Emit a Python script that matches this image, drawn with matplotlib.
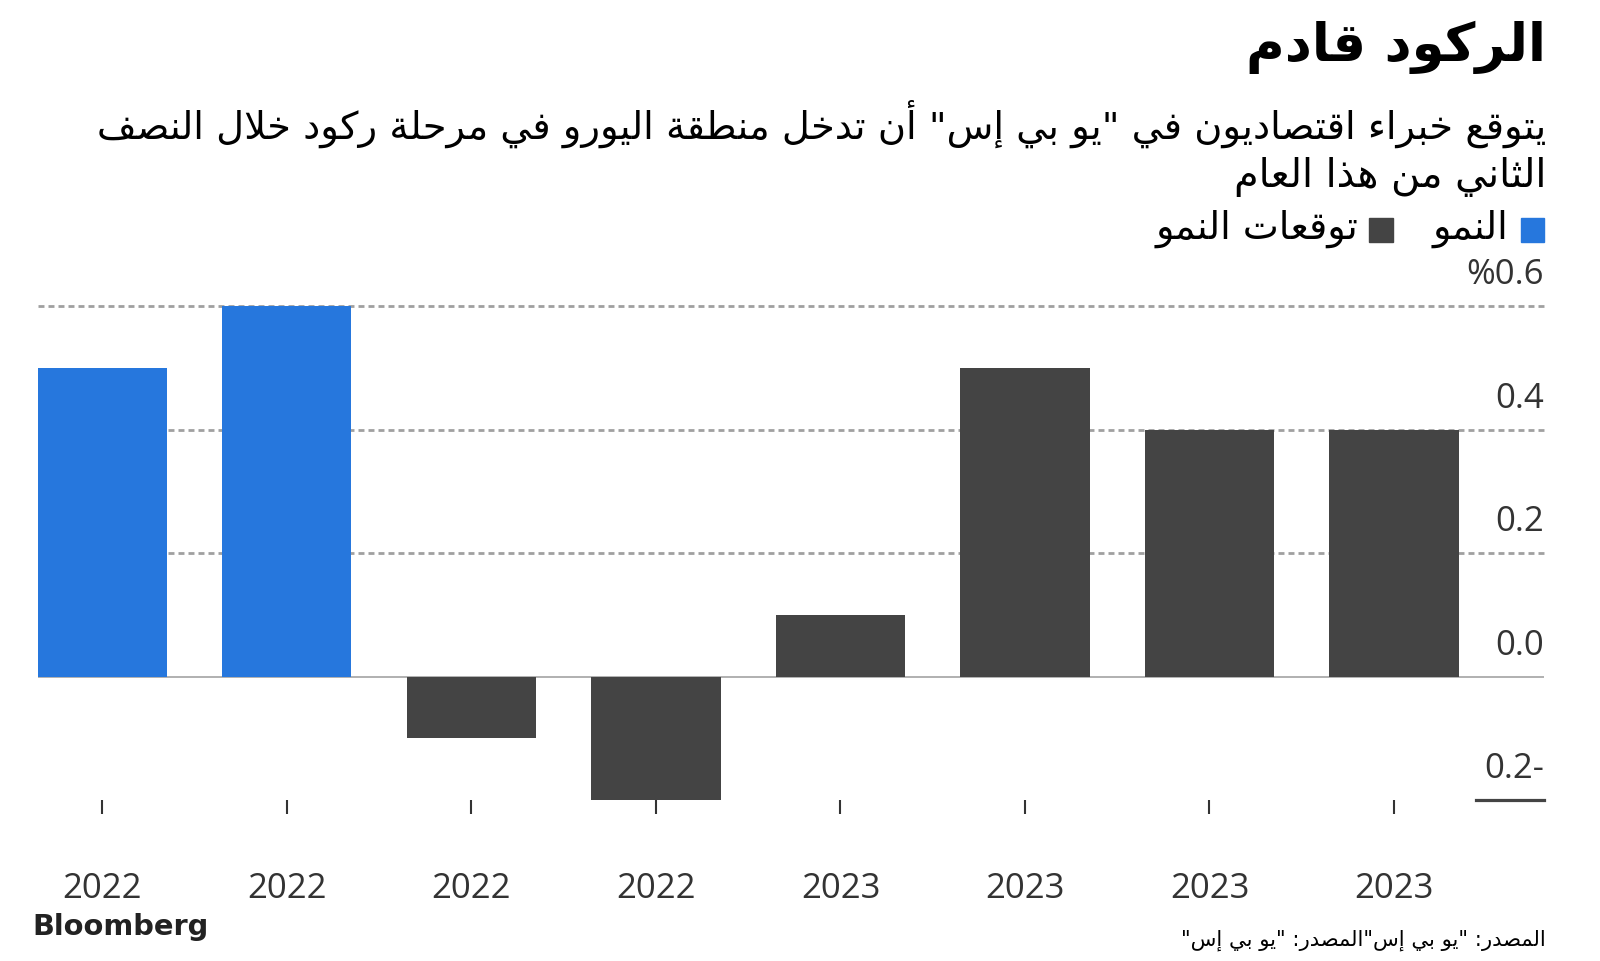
import matplotlib
matplotlib.use('Agg')
import matplotlib.pyplot as plt
import matplotlib.transforms as mtransforms

# ---- data ----
years = ['2022', '2022', '2022', '2022', '2023', '2023', '2023', '2023']
growth = [0.5, 0.6, -0.1, -0.2, 0.1, 0.5, 0.4, 0.4]
is_forecast = [False, False, True, True, True, True, True, True]
ytick_vals = [0.6, 0.4, 0.2, 0.0, -0.2]
ytick_text = ['%0.6', '0.4', '0.2', '0.0', '0.2-']

title = 'الركود قادم'
subtitle1 = 'يتوقع خبراء اقتصاديون في "يو بي إس" أن تدخل منطقة اليورو في مرحلة ركود خلال النصف'
subtitle2 = 'الثاني من هذا العام'
legend_actual = 'النمو'
legend_forecast = 'توقعات النمو'
source = 'المصدر: "يو بي إس"المصدر: "يو بي إس"'

BLUE = '#2677dd'
DARK = '#444444'
TXT = '#333333'

# matplotlib has no arabic shaping -> use presentation forms + reverse
# (start codepoint of isolated form, joining type)
AR = {
    '\u0621': (0xFE80, 'N'), '\u0622': (0xFE81, 'R'), '\u0623': (0xFE83, 'R'),
    '\u0624': (0xFE85, 'R'), '\u0625': (0xFE87, 'R'), '\u0626': (0xFE89, 'D'),
    '\u0627': (0xFE8D, 'R'), '\u0628': (0xFE8F, 'D'), '\u0629': (0xFE93, 'R'),
    '\u062A': (0xFE95, 'D'), '\u062B': (0xFE99, 'D'), '\u062C': (0xFE9D, 'D'),
    '\u062D': (0xFEA1, 'D'), '\u062E': (0xFEA5, 'D'), '\u062F': (0xFEA9, 'R'),
    '\u0630': (0xFEAB, 'R'), '\u0631': (0xFEAD, 'R'), '\u0632': (0xFEAF, 'R'),
    '\u0633': (0xFEB1, 'D'), '\u0634': (0xFEB5, 'D'), '\u0635': (0xFEB9, 'D'),
    '\u0636': (0xFEBD, 'D'), '\u0637': (0xFEC1, 'D'), '\u0638': (0xFEC5, 'D'),
    '\u0639': (0xFEC9, 'D'), '\u063A': (0xFECD, 'D'), '\u0641': (0xFED1, 'D'),
    '\u0642': (0xFED5, 'D'), '\u0643': (0xFED9, 'D'), '\u0644': (0xFEDD, 'D'),
    '\u0645': (0xFEE1, 'D'), '\u0646': (0xFEE5, 'D'), '\u0647': (0xFEE9, 'D'),
    '\u0648': (0xFEED, 'R'), '\u0649': (0xFEEF, 'R'), '\u064A': (0xFEF1, 'D'),
}
LAMALEF = {'\u0622': 0xFEF5, '\u0623': 0xFEF7, '\u0625': 0xFEF9, '\u0627': 0xFEFB}


def ar(s):
    res = []
    n = len(s)
    i = 0
    while i < n:
        c = s[i]
        prev = s[i - 1] if i > 0 else ''
        link_prev = prev in AR and AR[prev][1] == 'D'
        if c == '\u0644' and i + 1 < n and s[i + 1] in LAMALEF:
            res.append(chr(LAMALEF[s[i + 1]] + (1 if link_prev else 0)))
            i += 2
            continue
        if c in AR:
            start, t = AR[c]
            nxt = s[i + 1] if i + 1 < n else ''
            link_next = t == 'D' and nxt in AR
            if t == 'N':
                form = 0
            elif link_prev and link_next:
                form = 3
            elif link_prev:
                form = 1
            elif link_next:
                form = 2
            else:
                form = 0
            res.append(chr(start + form))
        else:
            res.append(c)
        i += 1
    return ''.join(reversed(res))


W, H = 1600, 961
fig = plt.figure(figsize=(W / 100, H / 100), dpi=100)
fig.patch.set_facecolor('white')

ax_left, ax_right = 37.8 / W, 1544 / W
ax_top, ax_bottom = 1 - 306 / H, 1 - 800 / H
ax = fig.add_axes([ax_left, ax_bottom, ax_right - ax_left, ax_top - ax_bottom])

x = list(range(len(growth)))
colors = [DARK if f else BLUE for f in is_forecast]
ax.bar(x, growth, width=0.7, color=colors, zorder=3)

ax.set_xlim(-0.35, 7.813)
ax.set_ylim(-0.2, 0.6)

for v in [0.6, 0.4, 0.2]:
    ax.axhline(v, color='#a0a0a0', lw=2, ls=(0, (2.15, 1.45)), zorder=1, clip_on=False)
ax.axhline(0, color='#aaaaaa', lw=1.3, zorder=2)
ax.axhline(-0.2, xmin=0.955, xmax=1.0, color=DARK, lw=2.3, zorder=2, clip_on=False)

for s in ax.spines.values():
    s.set_visible(False)
ax.set_yticks([])
ax.set_xticks(x)
ax.set_xticklabels([])
ax.tick_params(axis='x', length=10, width=1.5, color=TXT, direction='out')

trans = mtransforms.blended_transform_factory(ax.transData, ax.transAxes)
for xi, yr in zip(x, years):
    ax.text(xi, -0.18, yr, transform=trans, ha='center', va='center',
            fontsize=25, color=TXT, family='Open Sans')

trans_y = mtransforms.blended_transform_factory(ax.transAxes, ax.transData)
for v, t in zip(ytick_vals, ytick_text):
    ax.text(1.0, v + 0.05, t, transform=trans_y, ha='right', va='center',
            fontsize=25, color=TXT, family='Open Sans')

# titles
fig.text(1546 / W, 1 - 47 / H, ar(title), ha='right', va='center',
         fontsize=38, fontweight='bold', color='black', family='DejaVu Sans')
fig.text(1546 / W, 1 - 124 / H, ar(subtitle1), ha='right', va='center',
         fontsize=27.6, color='black', family='DejaVu Sans')
fig.text(1546 / W, 1 - 177 / H, ar(subtitle2), ha='right', va='center',
         fontsize=28.5, color='black', family='DejaVu Sans')

# legend
ly = 1 - 229 / H
fig.patches.append(plt.Rectangle((1521 / W, 1 - 242 / H), 23 / W, 24 / H,
                                 transform=fig.transFigure, color=BLUE))
fig.text(1508 / W, ly, ar(legend_actual), ha='right', va='center',
         fontsize=27.5, color='black', family='DejaVu Sans')
fig.patches.append(plt.Rectangle((1369 / W, 1 - 242 / H), 24 / W, 24 / H,
                                 transform=fig.transFigure, color=DARK))
fig.text(1358 / W, ly, ar(legend_forecast), ha='right', va='center',
         fontsize=27.5, color='black', family='DejaVu Sans')

# footer
fig.text(32 / W, 1 - 927 / H, 'Bloomberg', ha='left', va='center',
         fontsize=20.8, fontweight='heavy', color='#222222', family='DejaVu Sans')
fig.text(1546 / W, 1 - 940 / H, ar(source), ha='right', va='center',
         fontsize=15.2, color='black', family='DejaVu Sans')

fig.savefig('out.png', dpi=100)
